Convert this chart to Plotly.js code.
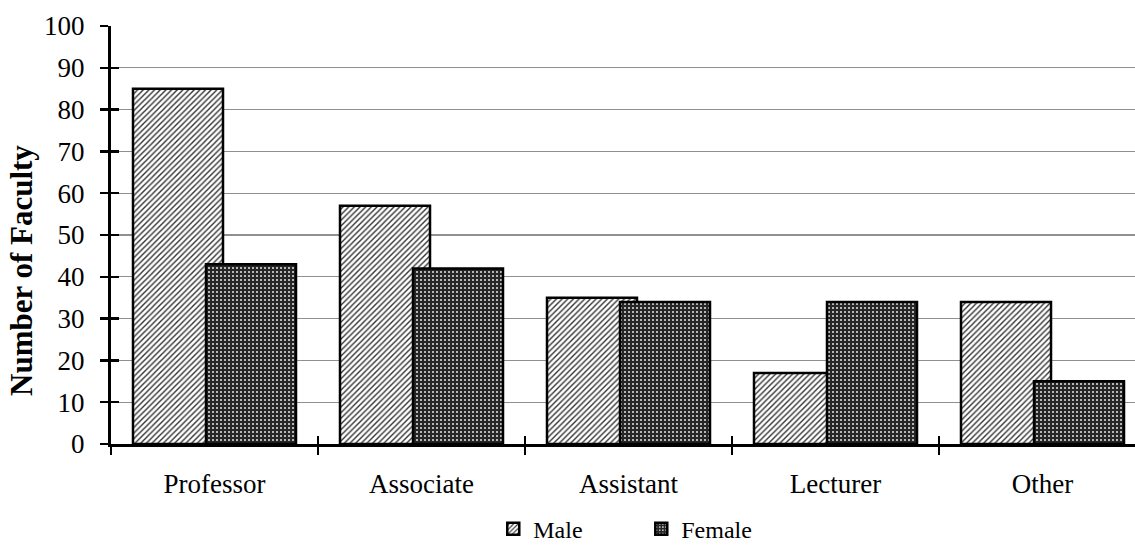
<!DOCTYPE html>
<html>
<head>
<meta charset="utf-8">
<script src="https://cdn.plot.ly/plotly-3.0.1.min.js"></script>
<style>html,body{margin:0;padding:0;background:#fff;overflow:hidden}</style>
</head>
<body>
<div id="chart" style="width:1135px;height:546px"></div>
<script>
const categories = ["Professor", "Associate", "Assistant", "Lecturer", "Other"];
const maleValues = [85, 57, 35, 17, 34];
const femaleValues = [43, 42, 34, 34, 15];
const seriesNames = ["Male", "Female"];
const yTickVals = [0, 10, 20, 30, 40, 50, 60, 70, 80, 90, 100];
const yTitle = "Number of Faculty";

const FONT = "Liberation Serif";
const barW = 90 / 207;

const traces = [
  {
    type: "bar", name: seriesNames[0], x: categories, y: maleValues,
    xaxis: "x", yaxis: "y",
    width: barW, offset: -81.5 / 207,
    marker: {
      color: "#ffffff",
      line: {color: "#000", width: 2.5},
      pattern: {shape: "/", fgcolor: "#333333", bgcolor: "#ffffff", size: 4, solidity: 0.35}
    },
    hoverinfo: "skip"
  },
  {
    type: "bar", name: seriesNames[1], x: categories, y: femaleValues,
    xaxis: "x2", yaxis: "y2",
    width: barW, offset: -8.5 / 207,
    marker: {
      color: "#2a2a2a",
      line: {color: "#000", width: 2.5},
      pattern: {shape: ".", fgcolor: "#e6e6e6", bgcolor: "#262626", size: 4, solidity: 0.2}
    },
    hoverinfo: "skip"
  }
];

const xr = [-0.5, -0.5 + 1024 / 207];
const tf = {family: FONT, size: 27, color: "#000"};
const layout = {
  width: 1135, height: 546,
  margin: {l: 111, r: 0, t: 26, b: 102},
  paper_bgcolor: "#fff", plot_bgcolor: "#fff",
  barmode: "overlay",
  showlegend: true,
  font: {family: FONT, color: "#000", size: 26},
  xaxis: {
    type: "category", range: xr, categoryorder: "array", categoryarray: categories,
    showline: true, linecolor: "#000", linewidth: 3,
    ticks: "outside", tickson: "boundaries", ticklen: 8, tickwidth: 2.5, tickcolor: "#000",
    showgrid: false, zeroline: false,
    tickfont: tf, ticklabelstandoff: 14
  },
  xaxis2: {
    type: "category", range: xr, categoryorder: "array", categoryarray: categories,
    overlaying: "x", anchor: "y2", side: "bottom",
    showticklabels: false, tickson: "boundaries",
    ticks: "inside", ticklen: 8, tickwidth: 2.5, tickcolor: "#000",
    showgrid: false, zeroline: false, showline: false
  },
  yaxis: {
    range: [0, 100], tickvals: yTickVals,
    showline: true, linecolor: "#000", linewidth: 3,
    ticks: "outside", ticklen: 8, tickwidth: 2.5, tickcolor: "#000",
    showgrid: true, gridcolor: "#909090", gridwidth: 1.3,
    zeroline: false,
    tickfont: tf, ticklabelstandoff: 10
  },
  yaxis2: {
    overlaying: "y", anchor: "x2", side: "left",
    range: [0, 100], tickvals: yTickVals,
    showticklabels: false, ticks: "inside", ticklen: 8, tickwidth: 2.5, tickcolor: "#000",
    showgrid: false, zeroline: false, showline: false
  },
  annotations: [{
    text: "<b>" + yTitle + "</b>", textangle: -90,
    xref: "paper", yref: "paper", x: -90 / 1024, y: 173 / 418,
    xanchor: "center", yanchor: "middle", showarrow: false,
    font: {family: FONT, size: 31, color: "#000"}
  }],
  legend: {
    orientation: "h", xref: "container", yref: "container",
    x: 0.565, xanchor: "center", y: 0.031, yanchor: "middle",
    font: {family: FONT, size: 24, color: "#000"},
    itemwidth: 30, entrywidth: 103, entrywidthmode: "pixels",
    bgcolor: "rgba(0,0,0,0)"
  }
};

Plotly.newPlot("chart", traces, layout, {staticPlot: true, displayModeBar: false});
</script>
</body>
</html>
